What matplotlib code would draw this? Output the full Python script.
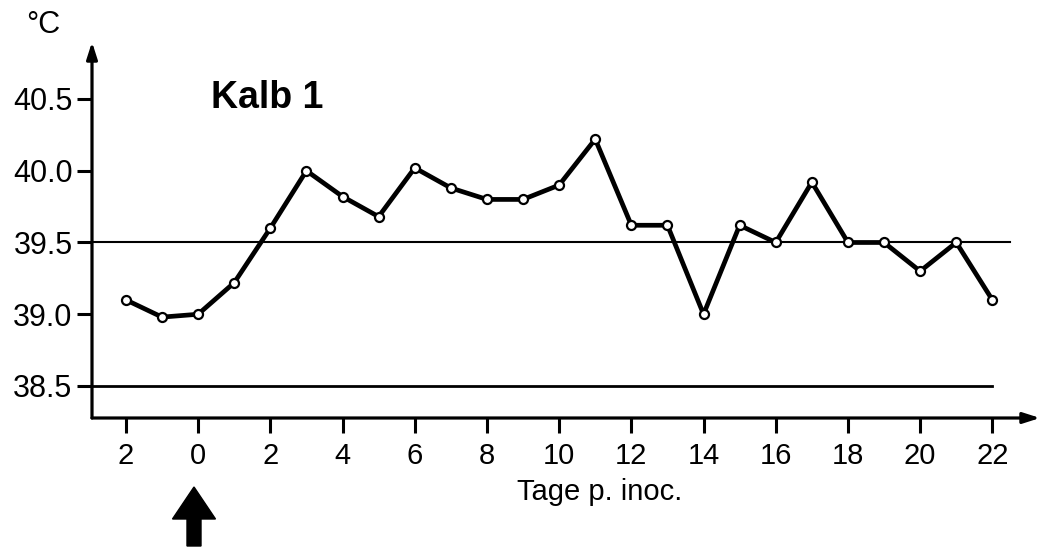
import matplotlib
matplotlib.use("Agg")
import matplotlib.pyplot as plt
from matplotlib.patches import FancyArrow

days = [-2, -1, 0, 1, 2, 3, 4, 5, 6, 7, 8, 9, 10, 11, 12, 13, 14, 15, 16, 17, 18, 19, 20, 21, 22]
temps = [39.1, 38.98, 39.0, 39.22, 39.6, 40.0, 39.82, 39.68, 40.02, 39.88, 39.8, 39.8, 39.9, 40.22,
         39.62, 39.62, 39.0, 39.62, 39.5, 39.92, 39.5, 39.5, 39.3, 39.5, 39.1]
xticks = [-2, 0, 2, 4, 6, 8, 10, 12, 14, 16, 18, 20, 22]
xticklabels = ["2", "0", "2", "4", "6", "8", "10", "12", "14", "16", "18", "20", "22"]
yticks = [38.5, 39.0, 39.5, 40.0, 40.5]
yticklabels = ["38.5", "39.0", "39.5", "40.0", "40.5"]
ref_upper = 39.5
ref_lower = 38.5

plt.rcParams['font.family'] = ['Liberation Sans', 'DejaVu Sans']

W, H = 1048, 549
fig = plt.figure(figsize=(W / 100, H / 100), dpi=100)
L, R, B, T = 92, 1040, 418, 42
ax = fig.add_axes([L / W, 1 - B / H, (R - L) / W, (B - T) / H])

ax.set_xlim(-2.94, 23.32)
ax.set_ylim(38.277, 40.897)

for s in ax.spines.values():
    s.set_visible(False)

# axes with arrows
ax.annotate('', xy=(1.0, 0), xytext=(0, 0), xycoords='axes fraction',
            arrowprops=dict(arrowstyle='-|>,head_length=1.0,head_width=0.32', lw=2.3, color='black',
                            shrinkA=0, shrinkB=0))
ax.annotate('', xy=(0, 1.0), xytext=(0, 0), xycoords='axes fraction',
            arrowprops=dict(arrowstyle='-|>,head_length=1.0,head_width=0.32', lw=2.3, color='black',
                            shrinkA=0, shrinkB=0))

# reference lines
ax.plot([-2.94, 22.5], [ref_upper, ref_upper], color='black', lw=1.5)
ax.plot([-2.94, 22.0], [ref_lower, ref_lower], color='black', lw=2.0)

# data
ax.plot(days, temps, color='black', lw=3.4, marker='o', markersize=6.5,
        markerfacecolor='white', markeredgecolor='black', markeredgewidth=1.6, zorder=3)

ax.set_xticks(xticks)
ax.set_xticklabels(xticklabels)
ax.set_yticks(yticks)
ax.set_yticklabels(yticklabels)
ax.tick_params(axis='x', direction='out', length=11, width=2.2, pad=6, labelsize=21)
ax.tick_params(axis='y', direction='out', length=11, width=2.2, pad=3, labelsize=22)

ax.set_xlabel('Tage p. inoc.', fontsize=21, va='center')
ax.xaxis.set_label_coords((600 - L) / (R - L), -(492 - B) / (B - T))
fig.text(43 / W, 1 - 25 / H, '°C', fontsize=22, ha='center', va='center')
fig.text(211 / W, 1 - 98 / H, 'Kalb 1', fontsize=27, fontweight='bold', ha='left', va='center')

# inoculation arrow
arr = FancyArrow(194 / W, 1 - 546 / H, 0, (546 - 487) / H, width=14 / W, head_width=43 / W,
                 head_length=32 / H, length_includes_head=True, color='black',
                 transform=fig.transFigure)
fig.patches.append(arr)

fig.savefig('out.png', dpi=100)
